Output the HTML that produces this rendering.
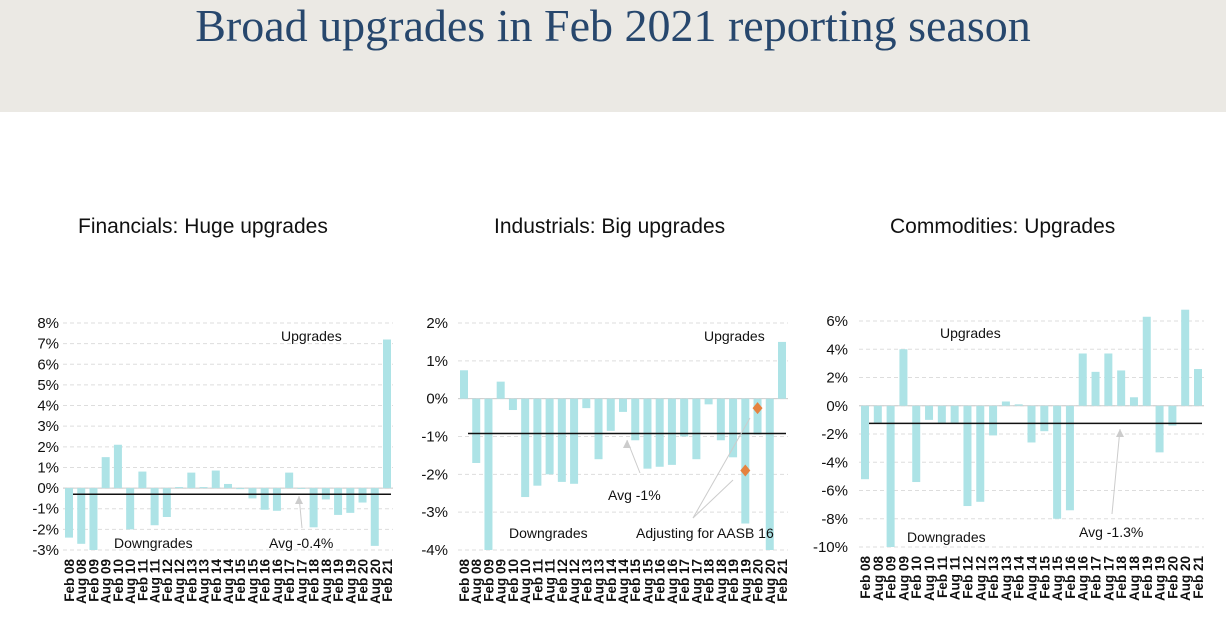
<!DOCTYPE html>
<html><head><meta charset="utf-8"><style>
body{margin:0;width:1226px;height:636px;background:#fff;overflow:hidden;font-family:"Liberation Sans",sans-serif}
#hdr{position:absolute;left:0;top:0;width:1226px;height:112px;background:#ebe9e4}
#title{position:absolute;left:0;width:1226px;top:-1px;text-align:center;font-family:"Liberation Serif",serif;font-size:46px;color:#27476d}
svg{position:absolute;left:0;top:0}
</style></head><body>
<div id="hdr"></div>
<div id="title">Broad upgrades in Feb 2021 reporting season</div>
<svg id="s" width="1226" height="636"></svg>
<script>
const categories=["Feb 08","Aug 08","Feb 09","Aug 09","Feb 10","Aug 10","Feb 11","Aug 11","Feb 12","Aug 12","Feb 13","Aug 13","Feb 14","Aug 14","Feb 15","Aug 15","Feb 16","Aug 16","Feb 17","Aug 17","Feb 18","Aug 18","Feb 19","Aug 19","Feb 20","Aug 20","Feb 21"];
const finValues=[-2.4,-2.7,-3.0,1.5,2.1,-2.0,0.8,-1.8,-1.4,0.05,0.75,0.05,0.85,0.2,-0.05,-0.5,-1.05,-1.1,0.75,0,-1.9,-0.55,-1.3,-1.2,-0.7,-2.8,7.2];
const indValues=[0.75,-1.7,-4,0.45,-0.3,-2.6,-2.3,-2.0,-2.2,-2.25,-0.25,-1.6,-0.85,-0.35,-1.1,-1.85,-1.8,-1.75,-1.0,-1.6,-0.15,-1.1,-1.55,-3.3,-0.95,-4,1.5];
const comValues=[-5.2,-1.2,-10,4.0,-5.4,-1.0,-1.2,-1.2,-7.1,-6.8,-2.1,0.3,0.1,-2.6,-1.8,-8.0,-7.4,3.7,2.4,3.7,2.5,0.6,6.3,-3.3,-1.4,6.9,2.6];
const finTicks=[8,7,6,5,4,3,2,1,0,-1,-2,-3];
const indTicks=[2,1,0,-1,-2,-3,-4];
const comTicks=[6,4,2,0,-2,-4,-6,-8,-10];
const finAvg=-0.3, indAvg=-0.92, comAvg=-1.25;
const indAdjCats=["Aug 19","Feb 20"];
const indAdjValues=[-1.9,-0.25];

const svg=document.getElementById('s');
const NS='http://www.w3.org/2000/svg';
function el(tag,a,txt){const e=document.createElementNS(NS,tag);for(const k in a)e.setAttribute(k,a[k]);if(txt!=null)e.textContent=txt;svg.appendChild(e);return e;}

function chart(cfg){
  const {vals,ticks,x0,x1,yTop,yBot,tickX,title,titleX,avg,key,over}=cfg;
  const vmax=ticks[0],vmin=ticks[ticks.length-1];
  const y=v=>yTop+(vmax-Math.min(vmax+over,Math.max(vmin,v)))/(vmax-vmin)*(yBot-yTop);
  const step=(x1-x0)/(categories.length-1);
  const x=i=>x0+i*step;
  let t=el('text',{x:titleX,y:233,'font-size':21,fill:'#111'},title);
  
  ticks.forEach(v=>{
    let g=el('line',{x1:x0-6,x2:x1+6,y1:y(v),y2:y(v),stroke:'#ddd','stroke-dasharray':'4,3'});
    
    let l=el('text',{x:tickX,y:y(v)+5,'font-size':15,'text-anchor':'end',fill:'#111'},v+'%');
    
  });
  let ax=el('line',{x1:x0-6,x2:x1+6,y1:y(0),y2:y(0),stroke:'#ccc'});
  
  vals.forEach((v,i)=>{
    const a=y(v),b=y(0);
    let r=el('rect',{x:x(i)-4,y:Math.min(a,b),width:8,height:Math.max(0.8,Math.abs(a-b)),fill:'#ade3e6'});
    
  });
  categories.forEach((c,i)=>{
    let l=el('text',{x:0,y:0,'font-size':13.5,'font-weight':'bold','text-anchor':'end',fill:'#111',transform:`translate(${x(i)+5},${yBot+9}) rotate(-90)`},c);
    
  });
  let av=el('line',{x1:x0+4,x2:x1+4,y1:y(avg),y2:y(avg),stroke:'#111','stroke-width':1.5});
  
  return {x,y};
}

const f=chart({key:'financials',vals:finValues,ticks:finTicks,x0:69,x1:387,yTop:323,yBot:550,tickX:59,title:'Financials: Huge upgrades',titleX:78,avg:finAvg,over:0.1});
const i2=chart({key:'industrials',vals:indValues,ticks:indTicks,x0:464,x1:782,yTop:323,yBot:550,tickX:448,title:'Industrials: Big upgrades',titleX:494,avg:indAvg,over:0.1});
const c=chart({key:'commodities',vals:comValues,ticks:comTicks,x0:865,x1:1198,yTop:321,yBot:547,tickX:848,title:'Commodities: Upgrades',titleX:890,avg:comAvg,over:0.8});

function lab(x,y,t,n){let e=el('text',{x:x,y:y,'font-size':14,fill:'#111'},t);}
function arr(x1,y1,x2,y2,n){let e=el('line',{x1:x1,y1:y1,x2:x2,y2:y2,stroke:'#ccc'});
 let p=el('polygon',{points:`${x2},${y2} ${x2-4},${y2+8} ${x2+4},${y2+8}`,fill:'#ccc'});}
lab(281,341,'Upgrades','financials-upgrades-label');
lab(114,548,'Downgrades','financials-downgrades-label');
lab(269,548,'Avg -0.4%','financials-avg-label');
arr(302,528,299,496,'financials-avg-arrow');
lab(704,341,'Upgrades','industrials-upgrades-label');
lab(509,538,'Downgrades','industrials-downgrades-label');
lab(608,500,'Avg -1%','industrials-avg-label');
lab(636,538,'Adjusting for AASB 16','industrials-aasb-label');
arr(640,473,627,440,'industrials-avg-arrow');
{let e=el('line',{x1:693,y1:518,x2:733,y2:480,stroke:'#ccc'});}
{let e=el('line',{x1:693,y1:518,x2:750,y2:418,stroke:'#ccc'});}
indAdjCats.forEach((cat,k)=>{
  const cx=i2.x(categories.indexOf(cat)),cy=i2.y(indAdjValues[k]);
  let d=el('polygon',{points:`${cx},${cy-6} ${cx+5},${cy} ${cx},${cy+6} ${cx-5},${cy}`,fill:'#e5823f'});
  
});
lab(940,338,'Upgrades','commodities-upgrades-label');
lab(907,542,'Downgrades','commodities-downgrades-label');
lab(1079,537,'Avg -1.3%','commodities-avg-label');
arr(1112,514,1120,429,'commodities-avg-arrow');
</script>
</body></html>
